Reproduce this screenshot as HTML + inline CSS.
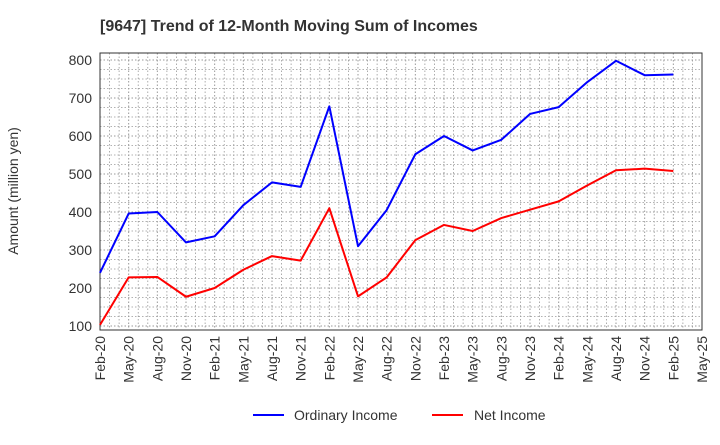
<!DOCTYPE html>
<html><head><meta charset="utf-8"><style>
body{margin:0;background:#fff;font-family:"Liberation Sans",sans-serif;}
</style></head><body>
<svg width="720" height="440" xmlns="http://www.w3.org/2000/svg" font-family="Liberation Sans, sans-serif">
<text x="100" y="31" font-size="16" font-weight="bold" fill="#333">[9647]  Trend of 12-Month Moving Sum of Incomes</text>
<text transform="translate(18,191) rotate(-90)" text-anchor="middle" font-size="14" fill="#333">Amount (million yen)</text>
<g id="grid"></g><g id="axes"></g><g id="series"></g>
<g>
<line x1="253" y1="415" x2="284" y2="415" stroke="#0000ff" stroke-width="2"/>
<text x="294" y="420" font-size="14" fill="#333">Ordinary Income</text>
<line x1="432" y1="415" x2="463" y2="415" stroke="#ff0000" stroke-width="2"/>
<text x="474" y="420" font-size="14" fill="#333">Net Income</text>
</g>
</svg>
<script>
const categories=["Feb-20","May-20","Aug-20","Nov-20","Feb-21","May-21","Aug-21","Nov-21","Feb-22","May-22","Aug-22","Nov-22","Feb-23","May-23","Aug-23","Nov-23","Feb-24","May-24","Aug-24","Nov-24","Feb-25","May-25"];
const ordinaryIncome=[240,396,400,320,336,418,478,466,678,310,405,552,600,562,590,658,676,742,798,760,762];
const netIncome=[103,228,229,177,200,248,284,272,410,178,228,326,366,350,384,406,428,470,510,514,508];
const yTicks=[100,200,300,400,500,600,700,800];
const L=100,R=702,T=53,B=330;
const xs=i=>L+i*(R-L)/21;
const ys=v=>60+(800-v)*0.38;
const NS="http://www.w3.org/2000/svg";
function mk(tag,attrs,parent){const e=document.createElementNS(NS,tag);for(const k in attrs)e.setAttribute(k,attrs[k]);parent.appendChild(e);return e;}
const grid=document.getElementById('grid'),axes=document.getElementById('axes'),series=document.getElementById('series');
for(let m=1;m<63;m++){const x=L+m*(R-L)/63;const g=mk('line',{x1:x,x2:x,y1:T,y2:B,stroke:'#999','stroke-dasharray':'1.5,2','stroke-width':(m%3==0)?1:0.8},grid);

}
for(let v=100;v<=825;v+=25){const y=ys(v);if(y<T)continue;const g=mk('line',{x1:L,x2:R,y1:y,y2:y,stroke:'#999','stroke-dasharray':'1.5,2','stroke-width':(v%100==0)?1:0.8},grid);

}
const fr=mk('rect',{x:L,y:T,width:R-L,height:B-T,fill:'none',stroke:'#333','stroke-width':1},axes);


yTicks.forEach(v=>{const t=mk('text',{x:92,y:ys(v)+5,'text-anchor':'end','font-size':14,fill:'#333'},axes);t.textContent=v;

});
categories.forEach((c,i)=>{const x=xs(i);const t=mk('text',{transform:`translate(${x+5},336) rotate(-90)`,'text-anchor':'end','font-size':14,fill:'#333'},axes);t.textContent=c;

});
function line(data,color,name){const p=mk('polyline',{points:data.map((v,i)=>xs(i)+','+ys(v)).join(' '),fill:'none',stroke:color,'stroke-width':2,'stroke-linejoin':'round'},series);

}
line(ordinaryIncome,'#0000ff','ordinary-income-line');
line(netIncome,'#ff0000','net-income-line');
</script>
</body></html>
